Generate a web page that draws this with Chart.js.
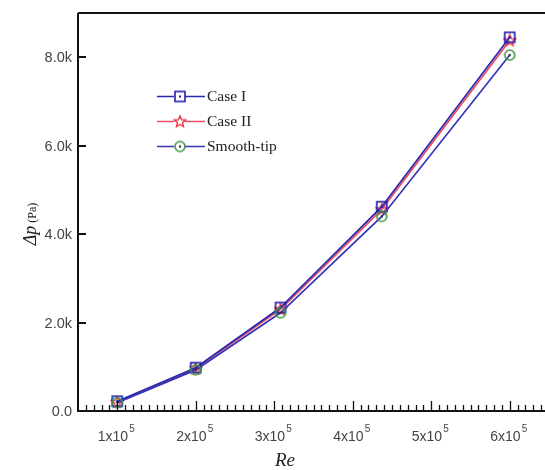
<!DOCTYPE html>
<html>
<head>
<meta charset="utf-8">
<script src="https://cdn.jsdelivr.net/npm/chart.js@4/dist/chart.umd.min.js"></script>
<style>
  html, body { margin: 0; padding: 0; background: #fff; overflow: hidden; }
  #wrap { width: 560px; height: 470px; position: relative; }
</style>
</head>
<body>
<div id="wrap"><canvas id="c" width="560" height="470"></canvas></div>
<script>
// Reynolds numbers and pressure drop (Pa) for each tip configuration
const reValues   = [1e5, 2e5, 3.08e5, 4.37e5, 6e5];
const caseI      = [220, 980, 2340, 4620, 8450];
const caseII     = [200, 960, 2300, 4560, 8380];
const smoothTip  = [190, 930, 2220, 4400, 8050];
const seriesNames = ['Case I', 'Case II', 'Smooth-tip'];

const yTickValues = [0, 2000, 4000, 6000, 8000];
const yTickLabels = ['0.0', '2.0k', '4.0k', '6.0k', '8.0k'];
const xTickValues = [1e5, 2e5, 3e5, 4e5, 5e5, 6e5];
const xTickBases  = ['1x10', '2x10', '3x10', '4x10', '5x10', '6x10'];
const xTickExps   = ['5', '5', '5', '5', '5', '5'];

// marker glyphs used for both the plot and the legend
function makeMarker(kind, color, inner) {
  const c = document.createElement('canvas');
  c.width = 14; c.height = 14;
  const g = c.getContext('2d');
  g.strokeStyle = color;
  g.lineWidth = 1.6;
  if (kind === 'square') {
    g.strokeRect(2, 2, 10, 10);
    g.fillStyle = inner;
    g.fillRect(6, 6, 2, 2);
  } else if (kind === 'circle') {
    g.beginPath(); g.arc(7, 7, 5, 0, Math.PI * 2); g.stroke();
    g.fillStyle = inner;
    g.beginPath(); g.arc(7, 7, 1.2, 0, Math.PI * 2); g.fill();
  } else if (kind === 'star') {
    g.lineWidth = 1.3;
    g.beginPath();
    for (let i = 0; i < 10; i++) {
      const r = i % 2 === 0 ? 6 : 2.6;
      const a = -Math.PI / 2 + i * Math.PI / 5;
      const px = 7 + r * Math.cos(a), py = 7.3 + r * Math.sin(a);
      if (i === 0) g.moveTo(px, py); else g.lineTo(px, py);
    }
    g.closePath(); g.stroke();
  }
  return c;
}

const mSquare = makeMarker('square', '#1f1fb0', '#1f1fb0');
const mStar   = makeMarker('star', '#ec2430');
const mCircle = makeMarker('circle', '#3f9a45', '#333');

const toXY = (arr) => arr.map((v, i) => ({ x: reValues[i], y: v }));

const datasets = [
  { label: seriesNames[2], data: toXY(smoothTip), borderColor: '#3535b8', marker: mCircle },
  { label: seriesNames[0], data: toXY(caseI),     borderColor: '#2a2ab0', marker: mSquare },
  { label: seriesNames[1], data: toXY(caseII),    borderColor: 'rgba(230,30,60,0.8)', marker: mStar }
].map(d => ({
  label: d.label,
  data: d.data,
  borderColor: d.borderColor,
  borderWidth: 1.7,
  pointStyle: d.marker,
  pointRadius: 6,
  pointHoverRadius: 6,
  backgroundColor: 'transparent',
  tension: 0,
  fill: false
}));

const frame = {
  id: 'frame',
  afterDraw(chart) {
    const ctx = chart.ctx;
    const a = chart.chartArea;
    const xs = chart.scales.x, ys = chart.scales.y;
    ctx.save();
    ctx.strokeStyle = '#111';
    ctx.lineCap = 'butt';

    // axes and top border
    ctx.lineWidth = 2;
    ctx.beginPath();
    ctx.moveTo(a.left, a.top); ctx.lineTo(a.left, a.bottom);
    ctx.lineTo(a.right, a.bottom);
    ctx.moveTo(a.left, a.top); ctx.lineTo(a.right, a.top);
    ctx.stroke();

    // x ticks (inward), minor every 1e4
    ctx.lineWidth = 1.3;
    ctx.beginPath();
    for (let v = 5e4; v <= xs.max + 1; v += 1e4) {
      const px = Math.round(xs.getPixelForValue(v)) + 0.5;
      if (px <= a.left + 1) continue;
      const major = Math.abs(v / 1e5 - Math.round(v / 1e5)) < 1e-6;
      ctx.moveTo(px, a.bottom);
      ctx.lineTo(px, a.bottom - (major ? 10 : 6));
    }
    ctx.stroke();

    // y ticks (inward)
    ctx.lineWidth = 2;
    ctx.beginPath();
    yTickValues.forEach(v => {
      const py = Math.round(ys.getPixelForValue(v));
      ctx.moveTo(a.left, py); ctx.lineTo(a.left + 8, py);
    });
    ctx.stroke();

    // y tick labels
    ctx.fillStyle = '#444';
    ctx.font = '14.5px "Liberation Sans", Arial, sans-serif';
    ctx.textAlign = 'right';
    ctx.textBaseline = 'middle';
    yTickValues.forEach((v, i) => {
      ctx.fillText(yTickLabels[i], a.left - 6, ys.getPixelForValue(v) + 1);
    });

    // x tick labels with superscript exponent
    ctx.textBaseline = 'alphabetic';
    xTickValues.forEach((v, i) => {
      const px = xs.getPixelForValue(v);
      ctx.font = '14px "Liberation Sans", Arial, sans-serif';
      const wb = ctx.measureText(xTickBases[i]).width;
      ctx.font = '10px "Liberation Sans", Arial, sans-serif';
      const we = ctx.measureText(xTickExps[i]).width;
      const x0 = px - (wb + we + 1) / 2 - 1;
      ctx.textAlign = 'left';
      ctx.font = '14px "Liberation Sans", Arial, sans-serif';
      ctx.fillText(xTickBases[i], x0, 441);
      ctx.font = '10px "Liberation Sans", Arial, sans-serif';
      ctx.fillText(xTickExps[i], x0 + wb + 1, 432);
    });

    // axis titles
    ctx.fillStyle = '#222';
    ctx.textAlign = 'center';
    ctx.font = 'italic 19px "Liberation Serif", "Times New Roman", serif';
    ctx.fillText('Re', 285, 466);

    ctx.save();
    ctx.translate(36, 224);
    ctx.rotate(-Math.PI / 2);
    ctx.textAlign = 'left';
    ctx.font = 'italic 18px "Liberation Serif", "Times New Roman", serif';
    const t1 = '\u0394p';
    const w1 = ctx.measureText(t1).width;
    ctx.font = '12px "Liberation Serif", "Times New Roman", serif';
    const t2 = ' (Pa)';
    const w2 = ctx.measureText(t2).width;
    const sx = -(w1 + w2) / 2;
    ctx.font = 'italic 18px "Liberation Serif", "Times New Roman", serif';
    ctx.fillText(t1, sx, 0);
    ctx.font = '12px "Liberation Serif", "Times New Roman", serif';
    ctx.fillText(t2, sx + w1, 0);
    ctx.restore();

    // legend
    const rows = [
      { name: seriesNames[0], ds: chart.data.datasets[1] },
      { name: seriesNames[1], ds: chart.data.datasets[2] },
      { name: seriesNames[2], ds: chart.data.datasets[0] }
    ];
    const ly = [96, 121, 146];
    rows.forEach((r, i) => {
      ctx.strokeStyle = r.ds.borderColor;
      ctx.lineWidth = 1.6;
      ctx.beginPath();
      ctx.moveTo(157, ly[i] + 0.5); ctx.lineTo(205, ly[i] + 0.5);
      ctx.stroke();
      ctx.fillStyle = '#fff';
      ctx.fillRect(174, ly[i] - 5, 11, 11);
      ctx.drawImage(r.ds.pointStyle, 173, ly[i] - 6.5);
      ctx.fillStyle = '#222';
      ctx.textAlign = 'left';
      ctx.textBaseline = 'middle';
      ctx.font = '15.5px "Liberation Serif", "Times New Roman", serif';
      ctx.fillText(r.name, 207, ly[i] + 1);
    });
    ctx.restore();
  }
};

new Chart(document.getElementById('c'), {
  type: 'line',
  data: { datasets },
  options: {
    responsive: false,
    animation: false,
    layout: { padding: { left: 78, top: 13, right: 11, bottom: 59 } },
    plugins: { legend: { display: false }, tooltip: { enabled: false } },
    scales: {
      x: { type: 'linear', min: 5e4, max: 6.5e5, display: false },
      y: { type: 'linear', min: 0, max: 9000, display: false }
    }
  },
  plugins: [frame]
});
</script>
</body>
</html>
